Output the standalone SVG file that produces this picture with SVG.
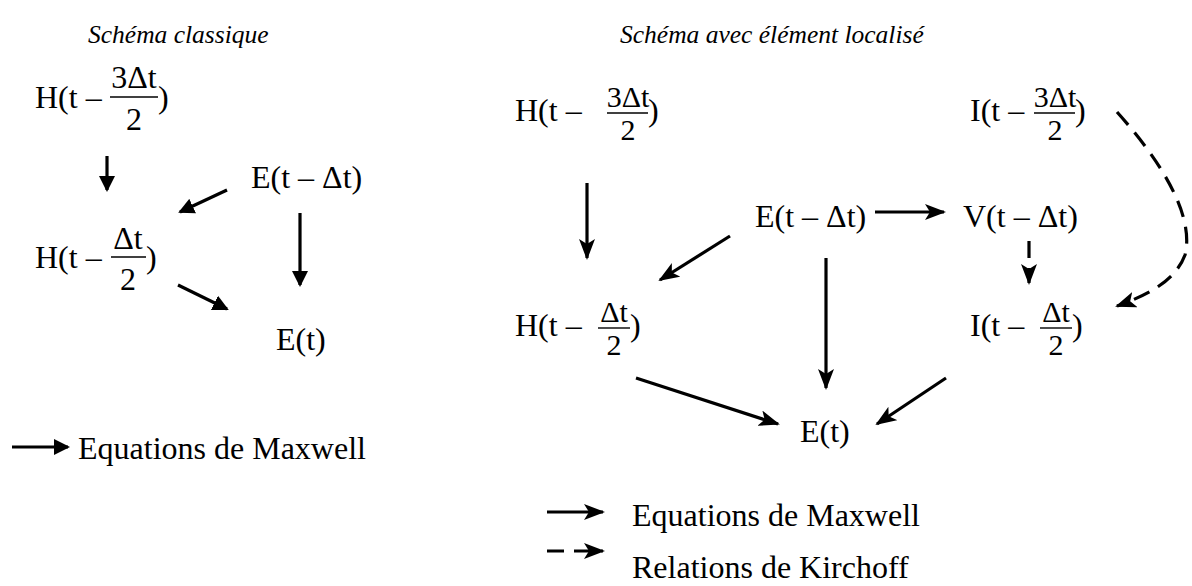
<svg xmlns="http://www.w3.org/2000/svg" width="1192" height="586" viewBox="0 0 1192 586">
<style>
text{font-family:"Liberation Serif","Times New Roman",serif;fill:#000}
.t{font-size:32px}
.f{font-size:30px}
.ti{font-size:25.5px;font-style:italic}
.c{text-anchor:middle}
.fl{stroke:#000;stroke-width:1.4}
.a{stroke:#000;stroke-width:3.2;fill:none}
.d{stroke:#000;stroke-width:3.2;fill:none;stroke-dasharray:17 10}
</style>
<defs>
<marker id="tri" markerWidth="16" markerHeight="16" refX="14" refY="8" orient="auto" markerUnits="userSpaceOnUse"><path d="M0,0 L16,8 L0,16 z" fill="#000"/></marker>
<marker id="st" markerWidth="22" markerHeight="16" refX="19" refY="8" orient="auto" markerUnits="userSpaceOnUse"><path d="M0,0 L21,8 L0,16 L5,8 z" fill="#000"/></marker>
</defs>
<rect width="1192" height="586" fill="#fff"/>
<g id="titles">
<text class="ti" x="88" y="43">Schéma classique</text>
<text class="ti" x="620" y="43">Schéma avec élément localisé</text>
</g>
<g id="left-H32">
<text class="t" x="35" y="108">H(t –</text>
<text class="t c" x="134" y="88">3Δt</text>
<line class="fl" x1="110" y1="97" x2="158" y2="97"/>
<text class="t c" x="134" y="130">2</text>
<text class="t" x="158" y="108">)</text>
</g>
<g id="left-E1">
<text class="t" x="251" y="188">E(t – Δt)</text>
</g>
<g id="left-H12">
<text class="t" x="35" y="268">H(t –</text>
<text class="t c" x="128" y="249">Δt</text>
<line class="fl" x1="111" y1="257" x2="146" y2="257"/>
<text class="t c" x="128" y="290">2</text>
<text class="t" x="146" y="268">)</text>
</g>
<g id="left-E0">
<text class="t" x="276" y="350">E(t)</text>
</g>
<g id="left-legend">
<line class="a" x1="12" y1="447" x2="68" y2="447" marker-end="url(#tri)"/>
<text class="t" x="78" y="459">Equations de Maxwell</text>
</g>
<g id="right-H32">
<text class="t" x="515" y="121">H(t –</text>
<text class="f c" x="628" y="107">3Δt</text>
<line class="fl" x1="607" y1="113" x2="648" y2="113"/>
<text class="f c" x="628" y="140">2</text>
<text class="t" x="648" y="121">)</text>
</g>
<g id="right-I32">
<text class="t" x="970" y="121">I(t –</text>
<text class="f c" x="1055" y="107">3Δt</text>
<line class="fl" x1="1034" y1="113" x2="1075" y2="113"/>
<text class="f c" x="1055" y="140">2</text>
<text class="t" x="1075" y="121">)</text>
</g>
<g id="right-E1">
<text class="t" x="755" y="227">E(t – Δt)</text>
</g>
<g id="right-V1">
<text class="t" x="963" y="227">V(t – Δt)</text>
</g>
<g id="right-H12">
<text class="t" x="515" y="336">H(t –</text>
<text class="f c" x="614" y="322">Δt</text>
<line class="fl" x1="598" y1="328" x2="630" y2="328"/>
<text class="f c" x="614" y="355">2</text>
<text class="t" x="630" y="336">)</text>
</g>
<g id="right-I12">
<text class="t" x="970" y="336">I(t –</text>
<text class="f c" x="1056" y="322">Δt</text>
<line class="fl" x1="1040" y1="328" x2="1072" y2="328"/>
<text class="f c" x="1056" y="355">2</text>
<text class="t" x="1072" y="336">)</text>
</g>
<g id="right-E0">
<text class="t" x="800" y="442">E(t)</text>
</g>
<g id="right-legend">
<line class="a" x1="547" y1="512" x2="603" y2="512" marker-end="url(#st)"/>
<text class="t" x="632" y="526">Equations de Maxwell</text>
<line class="d" x1="547" y1="551" x2="603" y2="551" stroke-dasharray="16 12" marker-end="url(#st)"/>
<text class="t" x="632" y="578">Relations de Kirchoff</text>
</g>
<g id="connectors">
<line class="a" x1="107" y1="156" x2="107" y2="190" marker-end="url(#tri)"/>
<line class="a" x1="227" y1="190" x2="180" y2="212" marker-end="url(#tri)"/>
<line class="a" x1="300" y1="213" x2="300" y2="285" marker-end="url(#tri)"/>
<line class="a" x1="178" y1="285" x2="227" y2="309" marker-end="url(#tri)"/>
<line class="a" x1="587" y1="183" x2="587" y2="258" marker-end="url(#st)"/>
<line class="a" x1="730" y1="236" x2="660" y2="280" marker-end="url(#st)"/>
<line class="a" x1="875" y1="212" x2="944" y2="212" marker-end="url(#st)"/>
<line class="d" x1="1029" y1="241" x2="1029" y2="283" stroke-dasharray="16 12" marker-end="url(#st)"/>
<path class="d" d="M1117,112 C1160,160 1195,215 1185,255 C1175,282 1145,296 1117,306" marker-end="url(#st)"/>
<line class="a" x1="826" y1="258" x2="826" y2="388" marker-end="url(#st)"/>
<line class="a" x1="636" y1="378" x2="778" y2="424" marker-end="url(#st)"/>
<line class="a" x1="946" y1="378" x2="877" y2="424" marker-end="url(#st)"/>
</g>
</svg>
